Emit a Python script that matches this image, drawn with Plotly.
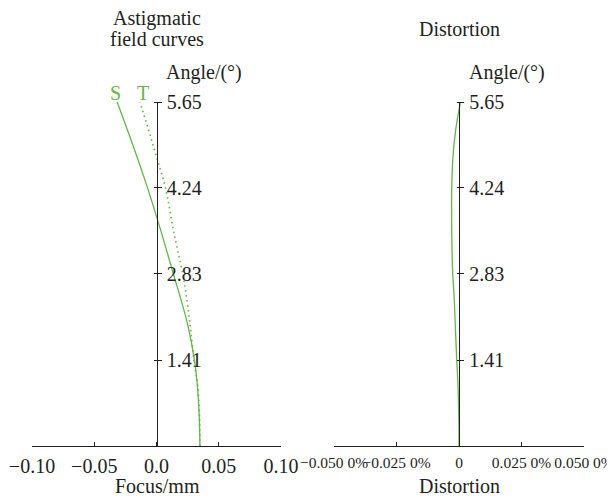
import plotly.graph_objects as go

# ---- data ----
angles = [0, 0.5, 1.0, 1.41, 2.0, 2.5, 2.83, 3.5, 4.24, 5.0, 5.65]
s_focus = [0.0349, 0.0343, 0.0328, 0.0305, 0.0250, 0.0183, 0.0135, 0.0040, -0.0072, -0.0200, -0.0316]
t_angles = [0, 0.5, 1.0, 1.41, 2.0, 2.5, 2.83, 3.5, 4.24, 4.75, 5.2, 5.65]
t_focus = [0.0349, 0.0345, 0.0330, 0.0300, 0.0270, 0.0237, 0.0210, 0.0140, 0.0072, 0.0, -0.0065, -0.0133]
d_angles = [0, 0.5, 1.0, 1.41, 2.0, 2.5, 2.83, 3.5, 4.24, 4.75, 5.2, 5.65]
distortion = [0, -0.0001, -0.0004, -0.0009, -0.0015, -0.0020, -0.0025, -0.0029, -0.0029, -0.0024, -0.0013, 0.0006]

angle_ticks = [1.41, 2.83, 4.24, 5.65]
angle_ticktext = ["1.41", "2.83", "4.24", "5.65"]
focus_ticks = [-0.10, -0.05, 0.0, 0.05, 0.10]
focus_ticktext = ["\u22120.10", "\u22120.05", "0.0", "0.05", "0.10"]
dist_ticks = [-0.05, -0.025, 0, 0.025, 0.05]
dist_ticktext = ["\u22120.050 0%", "\u22120.025 0%", "0", "0.025 0%", "0.050 0%"]

# ---- layout geometry (page body has an 8px margin) ----
OFF = 8
W, H = 615 - OFF, 497 - OFF
PL, PT, PB = 32, 102, 446   # plot box in page pixels
ML = PL - OFF
MT = PT - OFF
PW = 552
PH = 344
MR = W - ML - PW
MB = H - MT - PH


def xp(px):
    return (px - PL) / PW


def yp(py):
    return (PB - py) / PH


GREEN = "#62b846"
INK = "#231f20"
FONT = "Liberation Serif"

fig = go.Figure()
fig.add_trace(go.Scatter(x=s_focus, y=angles, mode="lines", line=dict(color=GREEN, width=1.3, shape="spline"),
                         xaxis="x", yaxis="y", showlegend=False))
fig.add_trace(go.Scatter(x=t_focus, y=t_angles, mode="lines",
                         line=dict(color=GREEN, width=1.6, dash="1.5px,3.5px", shape="spline"),
                         xaxis="x", yaxis="y", showlegend=False))
fig.add_trace(go.Scatter(x=distortion, y=d_angles, mode="lines", line=dict(color=GREEN, width=1.3, shape="spline"),
                         xaxis="x2", yaxis="y2", showlegend=False))

x1_dom = [xp(32), xp(281)]
x2_dom = [xp(334), xp(584)]
y1_pos = xp(156.5)
y2_pos = xp(459)

common_x = dict(showgrid=False, zeroline=False, showline=True, linecolor=INK, linewidth=1.3,
                ticks="inside", ticklen=4, tickcolor=INK, tickwidth=1.3, tickangle=0,
                tickmode="array", ticklabelstandoff=2, automargin=False)
common_y = dict(showgrid=False, zeroline=False, showline=True, linecolor=INK, linewidth=1.3,
                ticks="outside", ticklen=4, tickcolor=INK, tickwidth=1.3,
                tickmode="array", tickvals=angle_ticks, ticktext=angle_ticktext,
                range=[0, 5.65], side="right", anchor="free", automargin=False,
                tickfont=dict(family=FONT, size=20, color=INK), ticklabelstandoff=1)

fig.update_layout(
    width=W, height=H,
    margin=dict(l=ML, r=MR, t=MT, b=MB, autoexpand=False),
    paper_bgcolor="white", plot_bgcolor="white",
    font=dict(family=FONT, color=INK),
    xaxis=dict(domain=x1_dom, range=[-0.1, 0.1], anchor="y", tickvals=focus_ticks, ticktext=focus_ticktext,
               tickfont=dict(family=FONT, size=20, color=INK), **common_x),
    xaxis2=dict(domain=x2_dom, range=[-0.05, 0.05], anchor="y2", tickvals=dist_ticks, ticktext=dist_ticktext,
                tickfont=dict(family=FONT, size=15.5, color=INK), **common_x),
    yaxis=dict(position=y1_pos, **common_y),
    yaxis2=dict(position=y2_pos, **common_y),
    yaxis3=dict(overlaying="y", anchor="free", position=y1_pos, side="left", range=[0, 5.65],
                showgrid=False, zeroline=False, showline=False, ticks="outside", ticklen=3, automargin=False,
                tickcolor=INK, tickwidth=1.3, tickmode="array", tickvals=angle_ticks, showticklabels=False),
    yaxis4=dict(overlaying="y2", anchor="free", position=y2_pos, side="left", range=[0, 5.65],
                showgrid=False, zeroline=False, showline=False, ticks="outside", ticklen=2, automargin=False,
                tickcolor=INK, tickwidth=1.3, tickmode="array", tickvals=angle_ticks, showticklabels=False),
)

# dummy traces to make overlay axes render
fig.add_trace(go.Scatter(x=[None], y=[None], xaxis="x", yaxis="y3", showlegend=False, hoverinfo="skip"))
fig.add_trace(go.Scatter(x=[None], y=[None], xaxis="x2", yaxis="y4", showlegend=False, hoverinfo="skip"))


def ann(text, px, py, size=20, color=INK, xanchor="center"):
    fig.add_annotation(text=text, x=xp(px), y=yp(py), xref="paper", yref="paper",
                       showarrow=False, xanchor=xanchor, yanchor="middle",
                       font=dict(family=FONT, size=size, color=color))


ann("Astigmatic", 157, 18)
ann("field curves", 157, 39)
ann("Distortion", 459, 29)
ann("Angle/(\u00b0)", 164, 72, xanchor="left")
ann("Angle/(\u00b0)", 467, 72, xanchor="left")
ann("S", 115, 93, color=GREEN)
ann("T", 143, 93, color=GREEN)
ann("Focus/mm", 157, 486)
ann("Distortion", 459, 486)

fig.write_html("out.html")
